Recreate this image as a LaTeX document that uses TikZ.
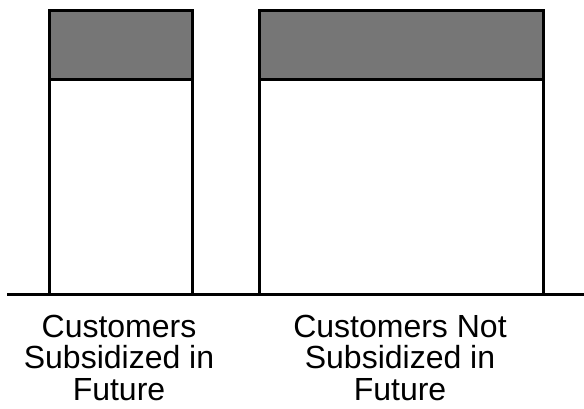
\documentclass[tikz,border=0pt]{standalone}
\usepackage{fontspec}
\setmainfont{Liberation Sans}
\definecolor{shade}{RGB}{118,118,118}
\tikzset{
  bar/.style={draw=black, line width=3pt, fill=white},
  topband/.style={draw=black, line width=3pt, fill=shade},
  axisline/.style={draw=black, line width=3pt},
  lbl/.style={align=center, inner sep=0pt, font=\fontsize{32}{31.5}\selectfont, anchor=base}
}
\begin{document}
\begin{tikzpicture}[x=1pt,y=-1pt]
\useasboundingbox (0,0) rectangle (584,408);
\draw[bar] (49,294) -- (49,10) -- (192,10) -- (192,294);
\filldraw[topband] (49,10) rectangle (192,79);
\draw[bar] (259,294) -- (259,10) -- (543,10) -- (543,294);
\filldraw[topband] (259,10) rectangle (543,79);
\coordinate (ax0) at (7,294);
\coordinate (ax1) at (584,294);
\draw[axisline] (ax0) -- (ax1);
\node[lbl] (l1) at (119,400) {Customers\\Subsidized in\\Future};
\node[lbl] (l2) at (400,400) {Customers Not\\Subsidized in\\Future};
\end{tikzpicture}
\end{document}
